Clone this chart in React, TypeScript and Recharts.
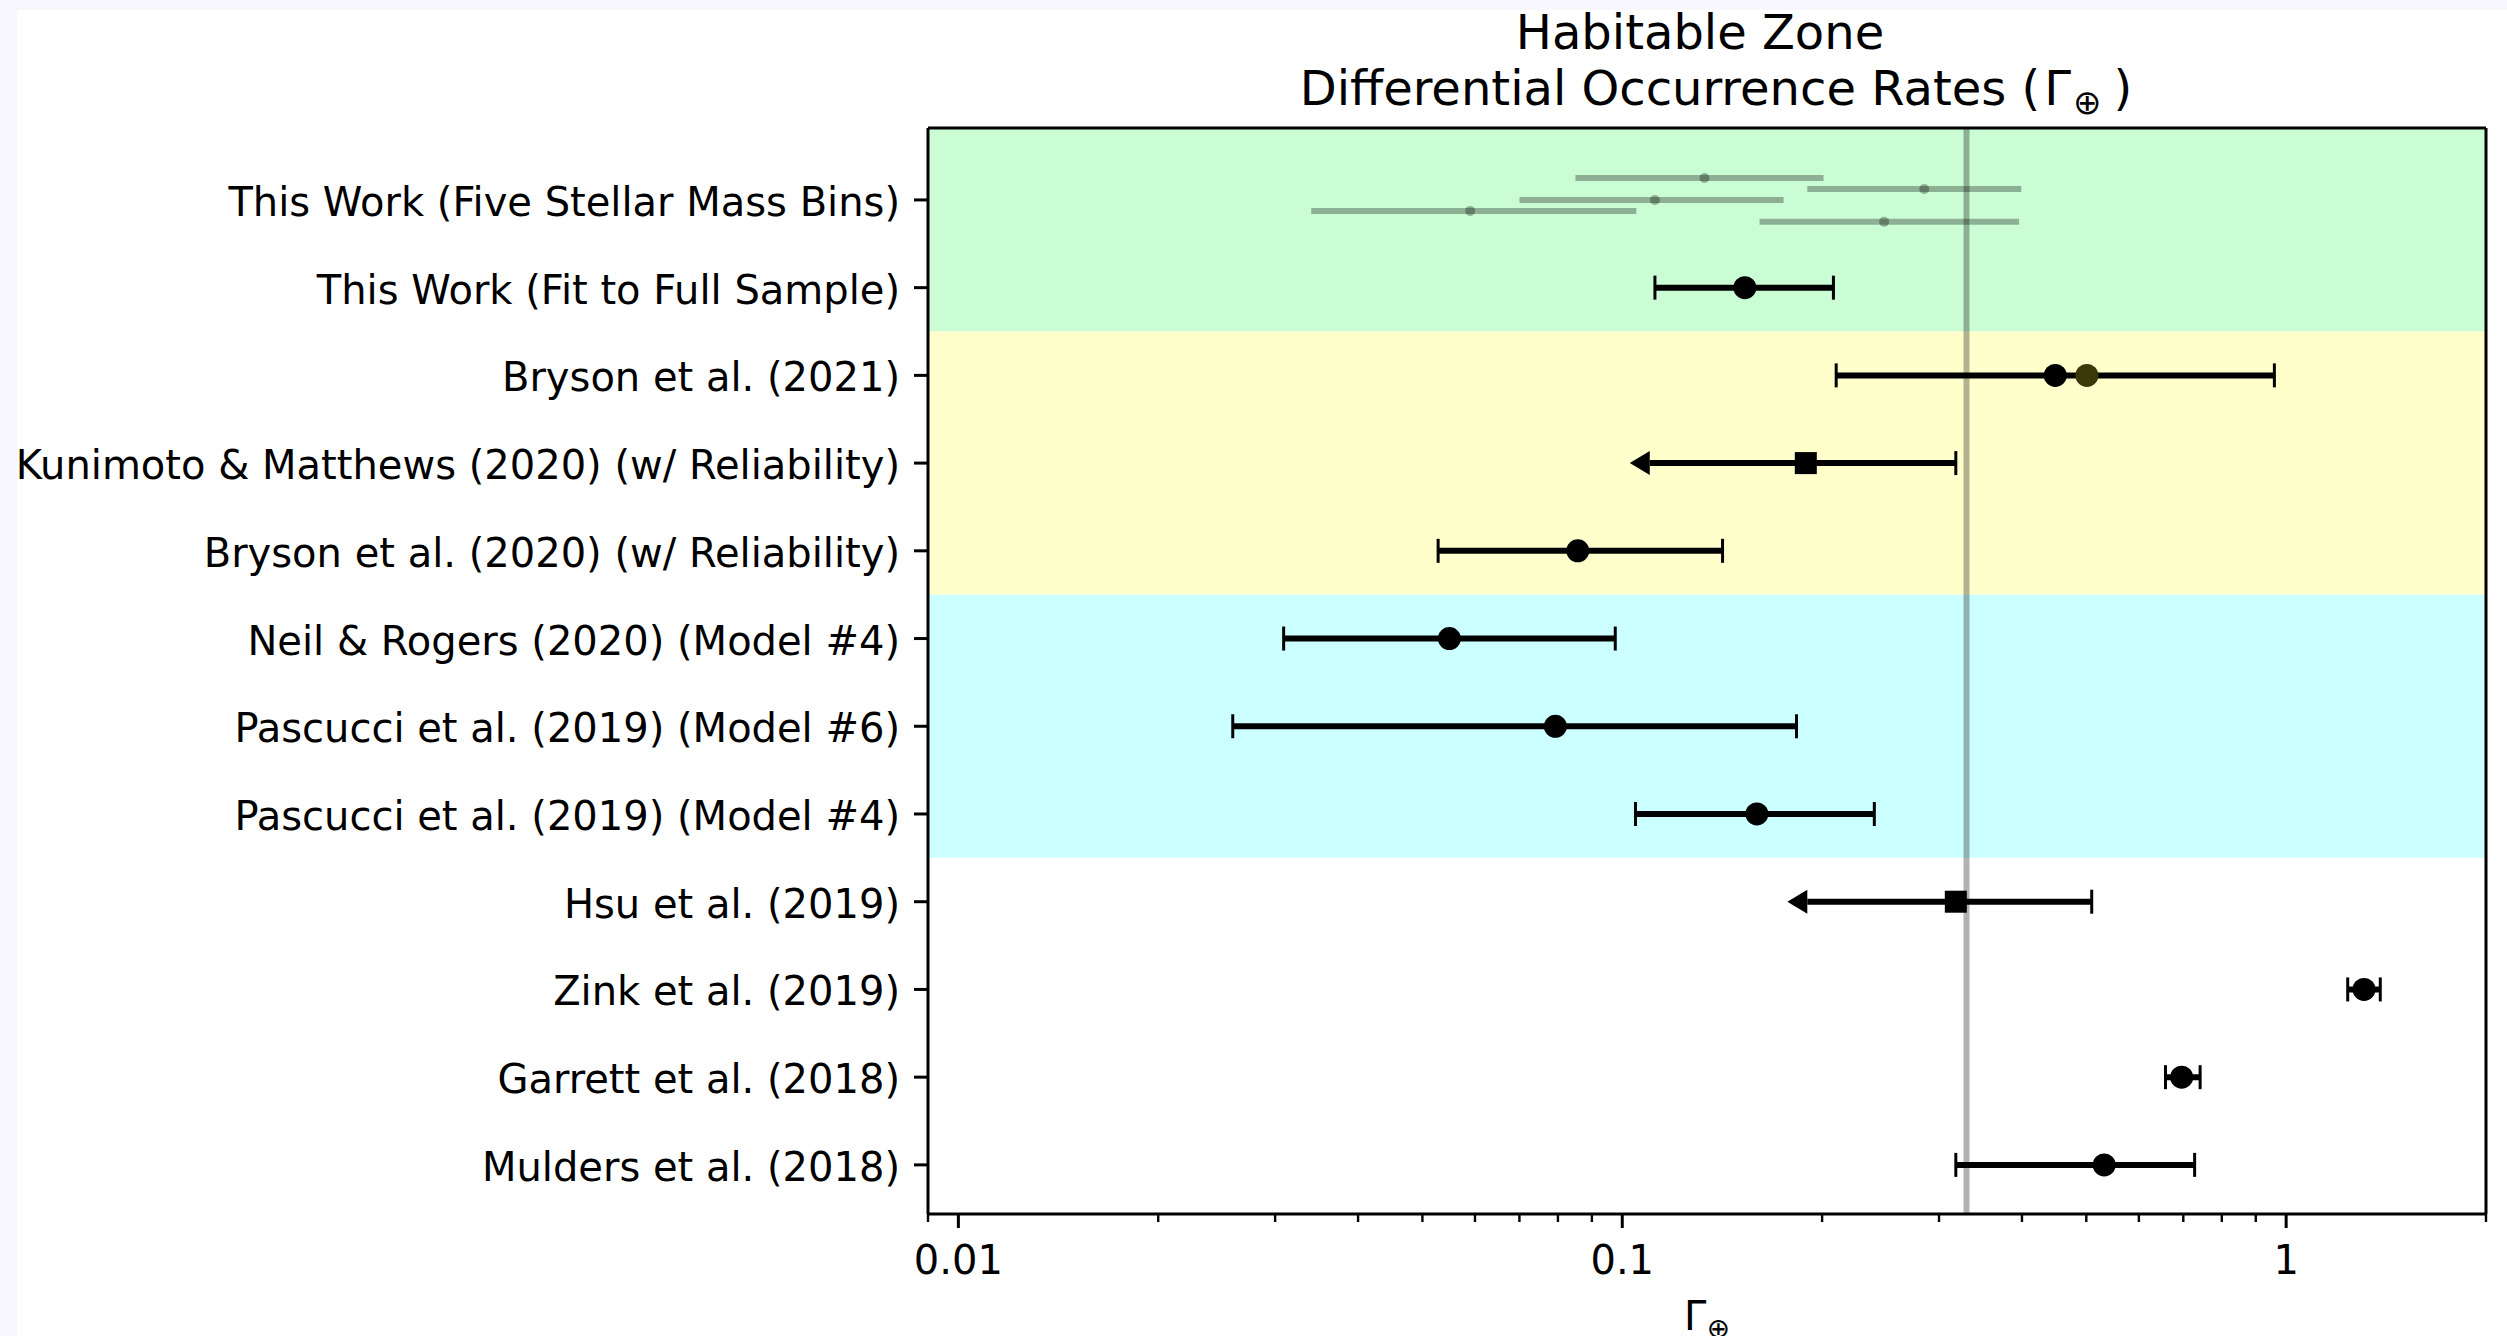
import {
  ScatterChart,
  Scatter,
  XAxis,
  YAxis,
  ErrorBar,
  ReferenceArea,
  ReferenceLine
} from "recharts"

const studies = [
  "This Work (Five Stellar Mass Bins)",
  "This Work (Fit to Full Sample)",
  "Bryson et al. (2021)",
  "Kunimoto & Matthews (2020) (w/ Reliability)",
  "Bryson et al. (2020) (w/ Reliability)",
  "Neil & Rogers (2020) (Model #4)",
  "Pascucci et al. (2019) (Model #6)",
  "Pascucci et al. (2019) (Model #4)",
  "Hsu et al. (2019)",
  "Zink et al. (2019)",
  "Garrett et al. (2018)",
  "Mulders et al. (2018)"
]

// one value per row, row 0 is drawn from the mass bins below
const estimate = [null, 0.153, 0.449, 0.189, 0.0857, 0.0549, 0.0793, 0.1595, 0.318, 1.31, 0.696, 0.532]
const lower = [null, 0.112, 0.21, 0.11, 0.0528, 0.0309, 0.0259, 0.1047, 0.19, 1.238, 0.658, 0.318]
const upper = [null, 0.208, 0.96, 0.318, 0.1416, 0.0976, 0.183, 0.2397, 0.5095, 1.386, 0.742, 0.728]
// rows drawn with an arrow on the low side (square marker)
const upperLimit = [false, false, false, true, false, false, false, false, true, false, false, false]

// second Bryson et al. (2021) estimate
const brysonAlt = 0.501

// five stellar mass bins
const binEstimate = [0.133, 0.285, 0.112, 0.059, 0.248]
const binLower = [0.085, 0.19, 0.07, 0.034, 0.161]
const binUpper = [0.201, 0.399, 0.175, 0.105, 0.396]

// shaded groups of rows (first/last row index)
const bandFirst = [0, 2, 5]
const bandLast = [1, 4, 7]
const bandColors = ["#cbfdd4", "#ffffcc", "#ccffff"]

const hzLine = 0.33

const xTicks = [
  0.009, 0.01, 0.02, 0.03, 0.04, 0.05, 0.06, 0.07, 0.08, 0.09,
  0.1, 0.2, 0.3, 0.4, 0.5, 0.6, 0.7, 0.8, 0.9, 1, 2
]
const majorTicks = [0.01, 0.1, 1]
const majorLabels = ["0.01", "0.1", "1"]

const X_DOMAIN: [number, number] = [0.009, 2]
const Y_DOMAIN: [number, number] = [-0.82, 11.56]
const FONT = "'DejaVu Sans', sans-serif"

const rows = studies
  .map((name, i) => ({
    name,
    y: i,
    x: estimate[i] as number,
    lo: lower[i] as number,
    hi: upper[i] as number,
    limit: upperLimit[i]
  }))
  .filter(r => r.x != null)
  .map(r => ({ ...r, err: [r.x - r.lo, r.hi - r.x] }))

const circles = rows.filter(r => !r.limit)
const squares = rows.filter(r => r.limit)
const caps = rows.flatMap(r =>
  r.limit ? [{ x: r.hi, y: r.y }] : [{ x: r.lo, y: r.y }, { x: r.hi, y: r.y }]
)
const arrows = squares.map(r => ({ x: r.lo, y: r.y }))
const alt = [{ x: brysonAlt, y: 2 }]
const bins = binEstimate.map((x, i) => ({
  x,
  y: (i - 2) * 0.125,
  err: [x - binLower[i], binUpper[i] - x]
}))

function BottomTick({ x, y, payload }: any) {
  const k = majorTicks.indexOf(payload.value)
  return (
    <g>
      <line x1={x} x2={x} y1={y} y2={y + (k >= 0 ? 14 : 8)} stroke="#000" strokeWidth={k >= 0 ? 3 : 2.4} />
      {k >= 0 && (
        <text x={x} y={y + 60} textAnchor="middle" fontSize={40} fontFamily={FONT} fill="#000">
          {majorLabels[k]}
        </text>
      )}
    </g>
  )
}

function TopTick({ x, y, payload }: any) {
  const major = majorTicks.includes(payload.value)
  return (
    <line x1={x} x2={x} y1={y} y2={y + (major ? 14 : 8)} stroke="#000" strokeWidth={major ? 3 : 2.4} />
  )
}

function LeftTick({ x, y, payload }: any) {
  return (
    <g>
      <line x1={x - 14} x2={x} y1={y} y2={y} stroke="#000" strokeWidth={3} />
      <text x={x - 28} y={y} dy="0.4em" textAnchor="end" fontSize={40} fontFamily={FONT} fill="#000">
        {studies[payload.value]}
      </text>
    </g>
  )
}

const dot = (r: number, fill: string) => (p: any) =>
  <circle cx={p.cx} cy={p.cy} r={r} fill={fill} />

const square = (p: any) => <rect x={p.cx - 11} y={p.cy - 11} width={22} height={22} fill="#000" />

const cap = (p: any) => (
  <line x1={p.cx} x2={p.cx} y1={p.cy - 12} y2={p.cy + 12} stroke="#000" strokeWidth={3} />
)

const arrowHead = (p: any) => (
  <polygon points={`${p.cx},${p.cy - 12} ${p.cx},${p.cy + 12} ${p.cx - 20},${p.cy}`} fill="#000" />
)

export default function App() {
  return (
    <div style={{ position: "absolute", left: 0, top: 0, width: 2507, height: 1336, background: "#f7f7fd", overflow: "hidden" }}>
      <div style={{ position: "absolute", left: 17, top: 10, width: 2490, height: 1326, background: "#fff" }}>
        <ScatterChart width={2490} height={1326} margin={{ top: 118, right: 21, bottom: 0, left: 0 }}>
          <XAxis
            dataKey="x"
            type="number"
            scale="log"
            domain={X_DOMAIN}
            allowDataOverflow
            ticks={xTicks}
            interval={0}
            height={122}
            tickSize={0}
            tickMargin={0}
            tickLine={false}
            tick={<BottomTick />}
            axisLine={{ stroke: "#000", strokeWidth: 3 }}
          />
          <XAxis
            xAxisId="top"
            orientation="top"
            dataKey="x"
            type="number"
            scale="log"
            domain={X_DOMAIN}
            allowDataOverflow
            ticks={xTicks}
            interval={0}
            height={0}
            tickSize={0}
            tickMargin={0}
            tickLine={false}
            tick={<TopTick />}
            axisLine={{ stroke: "#000", strokeWidth: 3 }}
          />
          <YAxis
            dataKey="y"
            type="number"
            domain={Y_DOMAIN}
            allowDataOverflow
            reversed
            ticks={studies.map((_, i) => i)}
            interval={0}
            width={911}
            tickSize={0}
            tickMargin={0}
            tickLine={false}
            tick={<LeftTick />}
            axisLine={{ stroke: "#000", strokeWidth: 3 }}
          />
          <YAxis
            yAxisId="right"
            orientation="right"
            dataKey="y"
            type="number"
            domain={Y_DOMAIN}
            allowDataOverflow
            reversed
            width={0}
            tick={false}
            tickLine={false}
            axisLine={{ stroke: "#000", strokeWidth: 3 }}
          />

          {bandFirst.map((first, i) => (
            <ReferenceArea
              key={i}
              y1={i === 0 ? Y_DOMAIN[0] : first - 0.5}
              y2={bandLast[i] + 0.5}
              fill={bandColors[i]}
              fillOpacity={1}
              stroke="none"
            />
          ))}
          <ReferenceLine x={hzLine} stroke="#000" strokeOpacity={0.3} strokeWidth={6} />
          {/* frame: keep the top and right spines drawn above the shading */}
          <ReferenceLine y={Y_DOMAIN[0]} stroke="#000" strokeWidth={3} />
          <ReferenceLine x={X_DOMAIN[1]} stroke="#000" strokeWidth={3} />

          <Scatter data={bins} shape={dot(5, "rgba(0,0,0,0.3)")} isAnimationActive={false}>
            <ErrorBar dataKey="err" direction="x" width={0} stroke="rgba(0,0,0,0.3)" strokeWidth={6} isAnimationActive={false} />
          </Scatter>
          <Scatter data={caps} shape={cap} isAnimationActive={false} />
          <Scatter data={arrows} shape={arrowHead} isAnimationActive={false} />
          <Scatter data={circles} shape={dot(11.5, "#000")} isAnimationActive={false}>
            <ErrorBar dataKey="err" direction="x" width={0} stroke="#000" strokeWidth={6} isAnimationActive={false} />
          </Scatter>
          <Scatter data={squares} shape={square} isAnimationActive={false}>
            <ErrorBar dataKey="err" direction="x" width={0} stroke="#000" strokeWidth={6} isAnimationActive={false} />
          </Scatter>
          <Scatter data={alt} shape={dot(11.5, "#3a3808")} isAnimationActive={false} />
          {/* binds the top and right axes so they are laid out */}
          <Scatter data={[]} xAxisId="top" yAxisId="right" isAnimationActive={false} />
        </ScatterChart>
      </div>
      <svg style={{ position: "absolute", left: 0, top: 0 }} width={2507} height={1336}>
        <text x={1700} y={49} textAnchor="middle" fontSize={48} fontFamily={FONT} fill="#000">
          Habitable Zone
        </text>
        <text x={1716} y={105} textAnchor="middle" fontSize={48} fontFamily={FONT} fill="#000">
          Differential Occurrence Rates (
          <tspan dx={4}>Γ</tspan>
          <tspan dy={9} dx={2} fontSize={34}>⊕</tspan>
          <tspan dy={-9} dx={12}>)</tspan>
        </text>
        <text x={1707} y={1330} textAnchor="middle" fontSize={40} fontFamily={FONT} fill="#000">
          Γ<tspan dy={8} fontSize={28}>⊕</tspan>
        </text>
      </svg>
    </div>
  )
}
